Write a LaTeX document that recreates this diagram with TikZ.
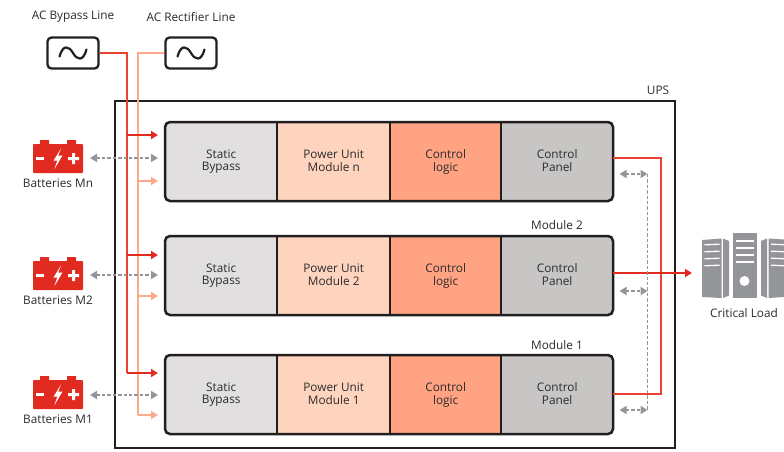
\documentclass[tikz,border=0pt]{standalone}
\usepackage{fontspec}
\setmainfont{Open Sans}
\usetikzlibrary{arrows.meta,calc}
\definecolor{framec}{HTML}{231F20}
\definecolor{redc}{HTML}{E12B20}
\definecolor{redl}{HTML}{E8432F}
\definecolor{lightr}{HTML}{FFA98C}
\definecolor{grayc}{HTML}{939598}
\definecolor{cellA}{HTML}{E1DFE0}
\definecolor{cellB}{HTML}{FFD4BE}
\definecolor{cellC}{HTML}{FFA382}
\definecolor{cellD}{HTML}{C7C6C4}
\definecolor{textc}{HTML}{2B2B2B}
\newcommand{\lnst}{\rule[-3pt]{0pt}{11pt}}
\tikzset{
  x=1pt,y=-1pt,
  lbl/.style={font=\fontsize{11.8}{11.6}\selectfont,text=textc,inner sep=0pt,align=center},
  cell/.style={lbl,minimum height=79pt,inner sep=0pt,anchor=north west},
  modframe/.style={draw=framec,line width=2.5pt,rounded corners=5pt},
  srcbox/.style={draw=framec,line width=2.3pt,rounded corners=4pt,fill=white,minimum width=51pt,minimum height=31pt,inner sep=0pt},
  upsbox/.style={draw=framec,line width=2.4pt,minimum width=560pt,minimum height=347pt,inner sep=0pt,anchor=north west},
  redline/.style={draw=redl,line width=1.7pt},
  redarrow/.style={draw=redc,line width=1.9pt,-{Triangle[length=7pt,width=8pt]}},
  lightline/.style={draw=lightr,line width=1.7pt},
  lightarrow/.style={draw=lightr,line width=1.9pt,-{Triangle[length=7pt,width=8pt]}},
  grayline/.style={draw=grayc,line width=1.7pt,dash pattern=on 3.4pt off 2pt},
  grayarrow/.style={draw=grayc,line width=1.7pt,dash pattern=on 3.4pt off 2pt,{Triangle[length=7pt,width=8pt]}-{Triangle[length=7pt,width=8pt]}},
  battbody/.style={fill=redc,rounded corners=0.8pt,minimum width=50pt,minimum height=29pt,inner sep=0pt}
}
\newcommand{\mymodule}[3]{%
  \begin{scope}
    \clip[rounded corners=5pt] (165,#2) rectangle (613,#2+79);
    \node[cell,fill=cellA,minimum width=112pt] (#1a) at (165,#2) {\lnst Static\\\lnst Bypass};
    \node[cell,fill=cellB,minimum width=113pt] (#1b) at (277,#2) {\lnst Power Unit\\\lnst Module #3};
    \node[cell,fill=cellC,minimum width=111pt] (#1c) at (390,#2) {\lnst Control\\\lnst logic};
    \node[cell,fill=cellD,minimum width=112pt] (#1d) at (501,#2) {\lnst Control\\\lnst Panel};
  \end{scope}
  \draw[framec,line width=1.9pt] (#1b.north west) -- (#1b.south west) (#1c.north west) -- (#1c.south west) (#1d.north west) -- (#1d.south west);
  \draw[modframe] (165,#2) rectangle (613,#2+79);
}
\newcommand{\mybatt}[3]{%
  \fill[redc] (40,#2-14.5-4) rectangle (49,#2-14.5) (67,#2-14.5-4) rectangle (76,#2-14.5);
  \node[battbody] (#1) at (58,#2) {};
  \fill[white] (36,#2-1.5) rectangle (44,#2+1.5);
  \fill[white] (68,#2-1.5) rectangle (79,#2+1.5) (72,#2-5.5) rectangle (75,#2+5.5);
  \fill[white] (61,#2-10) -- (53.5,#2+2.2) -- (57.2,#2+2.2) -- (54.5,#2+10.5) -- (62.5,#2-3) -- (58.2,#2-3) -- cycle;
  \node[lbl] (#1t) at (58,#2+24.5) {#3};
}
\newcommand{\mysine}[1]{%
  \draw[framec,line width=2.2pt,line cap=round] ($(#1)+(-13.5,3.5)$) .. controls ($(#1)+(-10,-9)$) and ($(#1)+(-4,-7)$) .. ($(#1)+(0,0)$) .. controls ($(#1)+(4,7)$) and ($(#1)+(10,9)$) .. ($(#1)+(13.5,-3.5)$);
}
\begin{document}
\begin{tikzpicture}
\useasboundingbox (0,0) rectangle (784,451);
\fill[white] (0,0) rectangle (784,451);

\node[upsbox] (ups) at (114,100) {};
\node[lbl] (upst) at (658,90) {UPS};

\node[lbl] (acbt) at (73,17) {AC Bypass Line};
\node[lbl] (acrt) at (191,17) {AC Rectifier Line};
\node[srcbox] (acb) at (73,53) {};
\node[srcbox] (acr) at (191,53) {};
\mysine{acb}
\mysine{acr}

\mymodule{mn}{122}{n}
\mymodule{mb}{236}{2}
\mymodule{ma}{355}{1}
\node[lbl] (m2t) at (557,225.5) {Module 2};
\node[lbl] (m1t) at (557,345) {Module 1};

\mybatt{bn}{158.5}{Batteries Mn}
\mybatt{bb}{275.5}{Batteries M2}
\mybatt{ba}{394.5}{Batteries M1}

% bypass and rectifier buses
\coordinate (rj1) at (127,135); \coordinate (re1) at (158,135);
\coordinate (rj2) at (127,255); \coordinate (re2) at (158,255);
\coordinate (rj3) at (127,373); \coordinate (re3) at (158,373);
\coordinate (lj1) at (138,181); \coordinate (le1) at (158,181);
\coordinate (lj2) at (138,296); \coordinate (le2) at (158,296);
\coordinate (lj3) at (138,415); \coordinate (le3) at (158,415);
\draw[lightline] (acr.west) -| (lj3);
\draw[lightarrow] (lj1) -- (le1);
\draw[lightarrow] (lj2) -- (le2);
\draw[lightarrow] (lj3) -- (le3);
\draw[redline] (acb.east) -| (rj3);
\draw[redarrow] (rj1) -- (re1);
\draw[redarrow] (rj2) -- (re2);
\draw[redarrow] (rj3) -- (re3);

% battery links
\coordinate (gn) at (158,158); \coordinate (gb) at (158,275); \coordinate (ga) at (158,395);
\coordinate (gns) at (90,158); \coordinate (gbs) at (90,275); \coordinate (gas) at (90,395);
\draw[grayarrow] (gns) -- (gn);
\draw[grayarrow] (gbs) -- (gb);
\draw[grayarrow] (gas) -- (ga);

% critical load icon
\node[inner sep=0pt,minimum width=24pt,minimum height=65pt,fill=grayc,anchor=north west] (srv) at (733,233) {};
\fill[grayc] (702,240) -- (721.5,238.5) -- (721.5,298) -- (702,297) -- cycle;
\fill[grayc] (723,238.5) -- (729,241) -- (729,295.5) -- (723,298) -- cycle;
\fill[grayc] (767,238.5) -- (761,241) -- (761,295.5) -- (767,298) -- cycle;
\fill[grayc] (768.5,238.5) -- (784,239.5) -- (784,297) -- (768.5,298) -- cycle;
\foreach \yy in {245,252,259,266}{
  \draw[white,line width=1.3pt] (704.5,\yy-0.2) -- (719.5,\yy-0.8);
  \draw[white,line width=1.3pt] (771,\yy-0.8) -- (784,\yy-0.3);
}
\foreach \yy in {241,248,255,262}{
  \draw[white,line width=1.3pt] (736,\yy) -- (754,\yy);
}
\fill[white] (744.5,281) circle (5);
\node[lbl] (clt) at (744,313) {Critical Load};

% output
\coordinate (on) at (613,158);
\coordinate (ob) at (613,273);
\coordinate (oa) at (613,394);
\coordinate (oc1) at (661,158);
\coordinate (oc3) at (661,394);
\coordinate (oe) at (692,273);
\draw[redline] (on) -- (oc1) -- (oc3) -- (oa);
\draw[redarrow] (ob) -- (oe);

% panel links
\coordinate (gv1) at (647.5,174); \coordinate (gv2) at (647.5,291); \coordinate (gv3) at (647.5,410);
\coordinate (gl1) at (619.5,174); \coordinate (gl2) at (619.5,291); \coordinate (gl3) at (619.5,410);
\draw[grayline] (gv1) -- (gv3);
\draw[grayarrow] (gl1) -- (gv1);
\draw[grayarrow] (gl2) -- (gv2);
\draw[grayarrow] (gl3) -- (gv3);
\end{tikzpicture}
\end{document}
